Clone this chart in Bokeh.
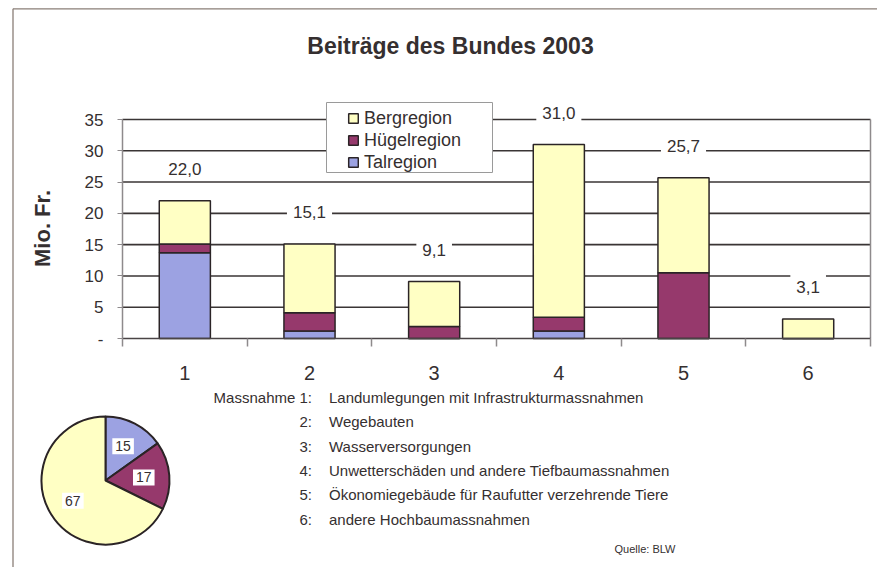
import math
from bokeh.plotting import figure
from bokeh.models import (ColumnDataSource, Range1d, FixedTicker, Legend,
                          LegendItem, Label, LinearAxis)
from bokeh.embed import file_html
from bokeh.resources import INLINE
from bokeh.core.properties import value

# ---------------- data ----------------
massnahmen = ["1", "2", "3", "4", "5", "6"]
talregion = [13.7, 1.2, 0.0, 1.2, 0.0, 0.0]
huegelregion = [1.4, 2.9, 1.9, 2.2, 10.5, 0.0]
bergregion = [6.9, 11.0, 7.2, 27.6, 15.2, 3.1]
y_ticks = [0, 5, 10, 15, 20, 25, 30, 35]
y_tick_labels = ["-", "5", "10", "15", "20", "25", "30", "35"]

pie_regions = ["Talregion", "Hügelregion", "Bergregion"]
pie_percent = [15, 17, 67]

massnahme_texte = [
    "Landumlegungen mit Infrastrukturmassnahmen",
    "Wegebauten",
    "Wasserversorgungen",
    "Unwetterschäden und andere Tiefbaumassnahmen",
    "Ökonomiegebäude für Raufutter verzehrende Tiere",
    "andere Hochbaumassnahmen",
]

title_text = "Beiträge des Bundes 2003"
y_label = "Mio. Fr."
quelle = "Quelle: BLW"

# ---------------- styles / layout ----------------
FONT = "Liberation Sans"
TXT = "#352f30"
C_TAL = "#9ca2e2"
C_HUE = "#96396c"
C_BERG = "#ffffc4"
EDGE = "#2b2426"
GRID = "#3a3535"
AXG = "#8e8a8c"

W, H = 877, 567                      # canvas = frame (pixel units)
PA_L, PA_R = 122, 870                 # plot area, canvas px
PA_B, PA_T = 229, 448                 # plot area, px from canvas bottom
n = len(massnahmen)
ymax = y_ticks[-1]
ux = n / (PA_R - PA_L)                # category units per px
uy = ymax / (PA_T - PA_B)             # value units per px

p = figure(width=W, height=H, x_range=Range1d(0, W), y_range=Range1d(0, H),
           output_backend="svg", toolbar_location=None, min_border=0,
           x_axis_location=None, y_axis_location=None,
           outline_line_color=None, background_fill_color="white",
           border_fill_color="white")
p.grid.visible = False
p.extra_x_ranges = {"bars": Range1d(0.5 - PA_L * ux, n + 0.5 + (W - PA_R) * ux)}
p.extra_y_ranges = {"bars": Range1d(-PA_B * uy, ymax + (H - PA_T) * uy)}
B = dict(x_range_name="bars", y_range_name="bars")

# outer frame lines (left + top)
p.segment(x0=[12.5, 12.5], y0=[0, H - 8.3], x1=[12.5, W], y1=[H - 8.3, H - 8.3],
          line_color="#8a7e77", line_width=1.3)

xs = [i + 1 for i in range(n)]
totals = [round(t + h + b, 1) for t, h, b in zip(talregion, huegelregion, bergregion)]
total_labels = [f"{v:.1f}".replace(".", ",") for v in totals]
src = ColumnDataSource(dict(x=xs, tal=talregion, hue=huegelregion, berg=bergregion,
                            total=totals, lbl=total_labels))

# horizontal grid lines
gy = y_ticks[1:]
p.segment(x0=[0.5] * len(gy), y0=gy, x1=[n + 0.5] * len(gy), y1=gy,
          line_color=GRID, line_width=1.6, **B)
# right border of plot area
p.segment(x0=[n + 0.5], y0=[0], x1=[n + 0.5], y1=[ymax],
          line_color=AXG, line_width=1.5, **B)

rs = p.vbar_stack(["tal", "hue", "berg"], x="x", width=0.41, source=src,
                  fill_color=[C_TAL, C_HUE, C_BERG], line_color=EDGE,
                  line_width=1.5, **B)

# total labels
p.text(x="x", y="total", text="lbl", source=src, text_align="center",
       text_baseline="middle", y_offset=-32, text_font=value(FONT),
       text_font_size="17px", text_color=TXT, background_fill_color="white",
       padding=6, **B)

# legend box + legend
p.quad(left=[326], right=[492], bottom=[395], top=[465],
       fill_color="white", line_color="#9a9a9a", line_width=1)
legend = Legend(items=[LegendItem(label="Bergregion", renderers=[rs[2]]),
                       LegendItem(label="Hügelregion", renderers=[rs[1]]),
                       LegendItem(label="Talregion", renderers=[rs[0]])],
                location=(347, 394), padding=4, spacing=0, label_height=22,
                glyph_height=12, glyph_width=12, label_standoff=5,
                border_line_color=None, background_fill_alpha=0,
                label_text_font=FONT, label_text_font_size="18px",
                label_text_color=TXT)
p.add_layout(legend)

# x axis (at value 0)
xa = LinearAxis(fixed_location=0, bounds=(0.5, n + 0.5), **B)
xa.ticker = FixedTicker(ticks=xs, minor_ticks=[x - 0.5 for x in xs] + [n + 0.5])
xa.major_label_overrides = {x: m for x, m in zip(xs, massnahmen)}
xa.major_tick_line_color = None
xa.major_tick_out = 0
xa.major_tick_in = 0
xa.minor_tick_in = 0
xa.minor_tick_out = 8
xa.minor_tick_line_color = AXG
xa.minor_tick_line_width = 1.5
xa.axis_line_color = "#4a4446"
xa.axis_line_width = 1.5
xa.major_label_text_font = FONT
xa.major_label_text_font_size = "20px"
xa.major_label_text_color = TXT
xa.major_label_standoff = 19
p.add_layout(xa, "below")

# y axis (at left edge of plot area)
ya = LinearAxis(fixed_location=0.5, bounds=(0, ymax), **B)
ya.ticker = FixedTicker(ticks=y_ticks)
ya.major_label_overrides = {t: l for t, l in zip(y_ticks, y_tick_labels)}
ya.major_tick_in = 0
ya.major_tick_out = 5
ya.major_tick_line_color = AXG
ya.minor_tick_line_color = None
ya.axis_line_color = AXG
ya.axis_line_width = 1.5
ya.major_label_text_font = FONT
ya.major_label_text_font_size = "17px"
ya.major_label_text_color = TXT
ya.major_label_standoff = 14
p.add_layout(ya, "left")

# title and y label
p.add_layout(Label(x=450, y=522, text=title_text, text_align="center",
                   text_baseline="middle", text_font=FONT, text_font_style="bold",
                   text_font_size="23px", text_color=TXT))
p.add_layout(Label(x=42, y=339, text=y_label, text_align="center", angle=math.pi / 2,
                   text_baseline="middle", text_font=FONT, text_font_style="bold",
                   text_font_size="22px", text_color=TXT))

# ---------------- pie ----------------
cx, cy, r = 105, 87, 64
tot_p = sum(pie_percent)
starts, ends, lx, ly = [], [], [], []
cum = 0.0
for v in pie_percent:
    a0 = math.pi / 2 - 2 * math.pi * cum / tot_p
    cum += v
    a1 = math.pi / 2 - 2 * math.pi * cum / tot_p
    starts.append(a0)
    ends.append(a1)
    mid = (a0 + a1) / 2
    lx.append(cx + 0.6 * r * math.cos(mid))
    ly.append(cy + 0.6 * r * math.sin(mid))

psrc = ColumnDataSource(dict(start=starts, end=ends, color=[C_TAL, C_HUE, C_BERG],
                             lx=lx, ly=ly, lbl=[str(v) for v in pie_percent]))
p.wedge(x=cx, y=cy, radius=r, start_angle="start", end_angle="end",
        direction="clock", fill_color="color", line_color=EDGE, line_width=2,
        source=psrc)
p.text(x="lx", y="ly", text="lbl", source=psrc, text_align="center",
       text_baseline="middle", text_font=value(FONT), text_font_size="14px",
       text_color=TXT, background_fill_color="white", padding=3)

# ---------------- notes ----------------
nums = [("Massnahme " if i == 0 else "") + f"{m}:" for i, m in enumerate(massnahmen)]
line_y = [170.3 - i * 24.4 for i in range(n)]
nsrc = ColumnDataSource(dict(num=nums, txt=massnahme_texte, y=line_y,
                             xn=[311.5] * n, xt=[328.5] * n))
p.text(x="xn", y="y", text="num", source=nsrc, text_align="right",
       text_baseline="middle", text_font=value(FONT), text_font_size="15px",
       text_color=TXT)
p.text(x="xt", y="y", text="txt", source=nsrc, text_align="left",
       text_baseline="middle", text_font=value(FONT), text_font_size="15px",
       text_color=TXT)
p.add_layout(Label(x=614, y=19, text=quelle, text_align="left",
                   text_baseline="middle", text_font=FONT, text_font_size="11px",
                   text_color=TXT))

open("out.html", "w").write(file_html(p, INLINE))
